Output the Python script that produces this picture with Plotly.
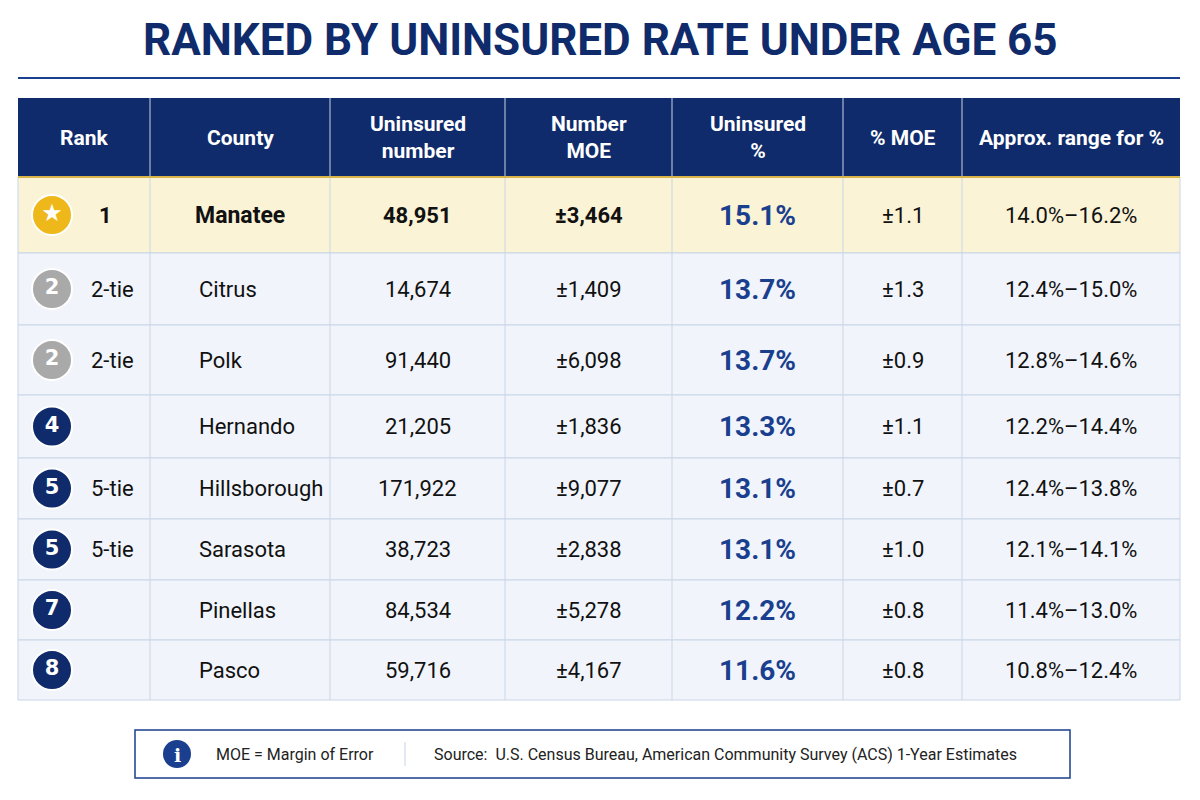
import plotly.graph_objects as go

# table data
ranks = ["1", "2", "2", "4", "5", "5", "7", "8"]
tie_labels = ["1", "2-tie", "2-tie", "", "5-tie", "5-tie", "", ""]
counties = ["Manatee", "Citrus", "Polk", "Hernando", "Hillsborough", "Sarasota", "Pinellas", "Pasco"]
uninsured_num = ["48,951", "14,674", "91,440", "21,205", "171,922", "38,723", "84,534", "59,716"]
number_moe = ["±3,464", "±1,409", "±6,098", "±1,836", "±9,077", "±2,838", "±5,278", "±4,167"]
uninsured_pct = ["15.1%", "13.7%", "13.7%", "13.3%", "13.1%", "13.1%", "12.2%", "11.6%"]
pct_moe = ["±1.1", "±1.3", "±0.9", "±1.1", "±0.7", "±1.0", "±0.8", "±0.8"]
pct_range = ["14.0%–16.2%", "12.4%–15.0%", "12.8%–14.6%", "12.2%–14.4%",
             "12.4%–13.8%", "12.1%–14.1%", "11.4%–13.0%", "10.8%–12.4%"]
headers = ["Rank", "County", "Uninsured<br>number", "Number<br>MOE", "Uninsured<br>%", "% MOE", "Approx. range for %"]

NAVY = "#0f2b6b"
BLUE = "#1a3f8f"
FONT = "Roboto"

col_x = [18, 150, 330, 505, 672, 843, 962, 1180]
row_y = [177, 253, 325, 395, 458, 519, 580, 640, 700]
head_top = 98

fig = go.Figure()
shapes = []
ann = []

# title
ann.append(dict(x=600, y=40, text="<b>RANKED BY UNINSURED RATE UNDER AGE 65</b>", showarrow=False,
                font=dict(family="Roboto", size=44, color=NAVY)))
shapes.append(dict(type="line", x0=18, x1=1180, y0=78, y1=78, line=dict(color=BLUE, width=2)))

# header
shapes.append(dict(type="rect", x0=col_x[0], x1=col_x[-1], y0=head_top, y1=row_y[0],
                   fillcolor=NAVY, line=dict(width=0), layer="below"))
for i, h in enumerate(headers):
    cx = (col_x[i] + col_x[i + 1]) / 2
    ann.append(dict(x=cx, y=(head_top + row_y[0]) / 2, text=f"<b>{h}</b>", showarrow=False,
                    font=dict(family=FONT, size=21, color="white")))

# rows
for r in range(len(counties)):
    y0, y1 = row_y[r], row_y[r + 1]
    cy = (y0 + y1) / 2
    fill = "#fbf3d6" if r == 0 else "#f1f5fb"
    shapes.append(dict(type="rect", x0=col_x[0], x1=col_x[-1], y0=y0, y1=y1,
                       fillcolor=fill, line=dict(color="#c9d5e6", width=1), layer="below"))
    top = r == 0
    lab = tie_labels[r]
    if lab:
        ann.append(dict(x=112 if not top else 105, y=cy, text=f"<b>{lab}</b>" if top else lab,
                        showarrow=False, font=dict(family=FONT, size=22, color="#111")))
    if top:
        ann.append(dict(x=240, y=cy, text=f"<b>{counties[r]}</b>", showarrow=False,
                        font=dict(family=FONT, size=23, color="#111")))
    else:
        ann.append(dict(x=197, y=cy, text=counties[r], showarrow=False, xanchor="left",
                        font=dict(family=FONT, size=22, color="#111")))
    for j, v in zip([2, 3, 5, 6], [uninsured_num[r], number_moe[r], pct_moe[r], pct_range[r]]):
        cx = (col_x[j] + col_x[j + 1]) / 2
        ann.append(dict(x=cx, y=cy, text=f"<b>{v}</b>" if top and j < 4 else v, showarrow=False,
                        font=dict(family=FONT, size=22, color="#111")))
    ann.append(dict(x=(col_x[4] + col_x[5]) / 2, y=cy, text=f"<b>{uninsured_pct[r]}</b>", showarrow=False,
                    font=dict(family=FONT, size=28, color=BLUE)))

for x in col_x[1:-1]:
    shapes.append(dict(type="line", x0=x, x1=x, y0=head_top, y1=row_y[-1],
                       line=dict(color="#c9d5e6", width=1)))
shapes.append(dict(type="line", x0=col_x[0], x1=col_x[-1], y0=row_y[0], y1=row_y[0],
                   line=dict(color="#d8b44a", width=2)))

# rank badges
centers = [(row_y[i] + row_y[i + 1]) / 2 for i in range(len(counties))]
badge_colors = ["#efb81a" if r == "1" else "#a9a9a9" if r == "2" else NAVY for r in ranks]
badge_text = ["★" if r == "1" else r for r in ranks]
fig.add_trace(go.Scatter(x=[52] * len(ranks), y=centers, mode="markers+text",
                         marker=dict(size=40, color=badge_colors, line=dict(color="white", width=2)),
                         text=[f"<b>{t}</b>" for t in badge_text], textposition="middle center",
                         textfont=dict(family="DejaVu Sans", size=[24] + [21] * 7, color="white"),
                         hoverinfo="skip", showlegend=False))

# footer
shapes.append(dict(type="rect", x0=135, x1=1070, y0=730, y1=778, line=dict(color=BLUE, width=1.5),
                   fillcolor="white", layer="below"))
shapes.append(dict(type="line", x0=405, x1=405, y0=742, y1=766, line=dict(color="#c9d5e6", width=1)))
shapes.append(dict(type="circle", x0=163, x1=191, y0=740, y1=768, fillcolor=BLUE, line=dict(width=0)))
ann.append(dict(x=177, y=755, text="<b>i</b>", showarrow=False, font=dict(family="DejaVu Serif", size=19, color="white")))
ann.append(dict(x=214, y=754, text="MOE = Margin of Error", xanchor="left", showarrow=False,
                font=dict(family=FONT, size=16, color="#222")))
ann.append(dict(x=432, y=754, text="Source:  U.S. Census Bureau, American Community Survey (ACS) 1-Year Estimates",
                xanchor="left", showarrow=False, font=dict(family=FONT, size=16, color="#222")))

# page body has an 8px margin, so shift the axis window to compensate
fig.update_layout(width=1200, height=800, margin=dict(l=0, r=0, t=0, b=0),
                  paper_bgcolor="white", plot_bgcolor="white", shapes=shapes, annotations=ann,
                  xaxis=dict(range=[8, 1208], visible=False, fixedrange=True),
                  yaxis=dict(range=[808, 8], visible=False, fixedrange=True))
fig.write_html("out.html")
